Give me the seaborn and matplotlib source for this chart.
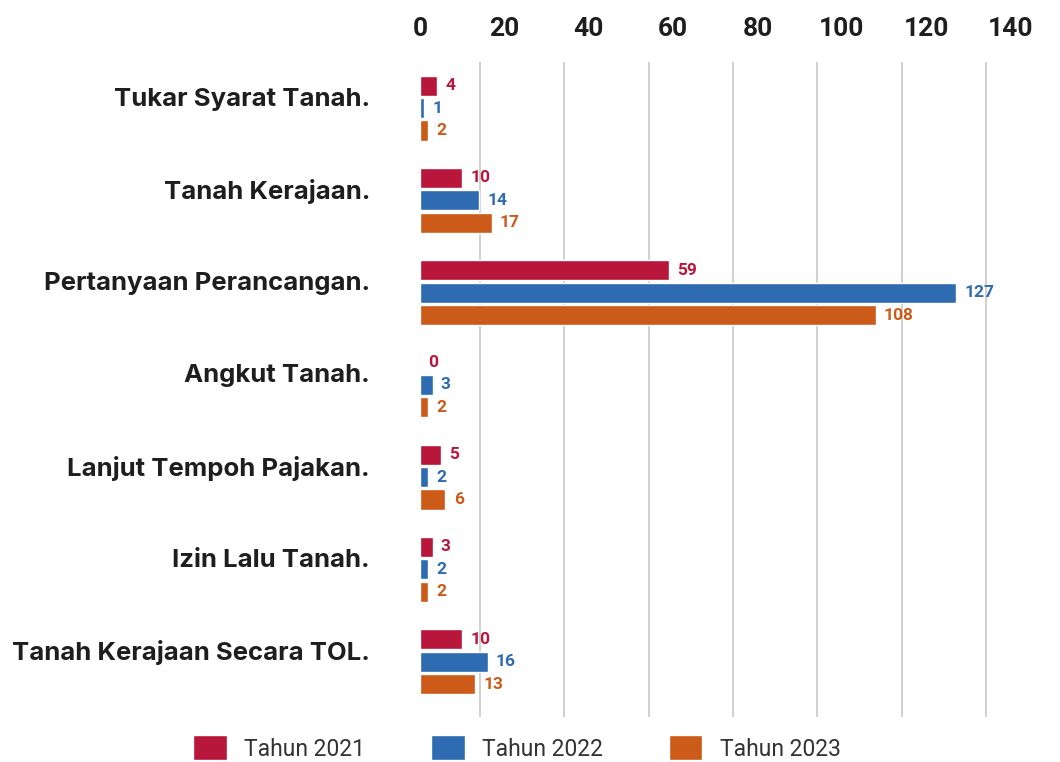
import numpy as np
import pandas as pd
import matplotlib
matplotlib.use("Agg")
import matplotlib.pyplot as plt
import matplotlib.transforms as mtransforms
from matplotlib.ticker import FixedLocator
import seaborn as sns

categories = ["Tukar Syarat Tanah.", "Tanah Kerajaan.", "Pertanyaan Perancangan.",
              "Angkut Tanah.", "Lanjut Tempoh Pajakan.", "Izin Lalu Tanah.",
              "Tanah Kerajaan Secara TOL."]
years = ["Tahun 2021", "Tahun 2022", "Tahun 2023"]
v2021 = [4, 10, 59, 0, 5, 3, 10]
v2022 = [1, 14, 127, 3, 2, 2, 16]
v2023 = [2, 17, 108, 2, 6, 2, 13]
xticks = [0, 20, 40, 60, 80, 100, 120, 140]
colors = ["#B8163A", "#2E6BB0", "#CC5A18"]

df = pd.DataFrame({
    "kategori": categories * 3,
    "tahun": [years[0]] * 7 + [years[1]] * 7 + [years[2]] * 7,
    "nilai": v2021 + v2022 + v2023,
})

sns.set_theme(style="white")
plt.rcParams["font.family"] = ["Roboto", "DejaVu Sans"]

fig = plt.figure(figsize=(10.6, 7.62), dpi=100)
ax = fig.add_axes([420 / 1060, 1 - 717 / 762, 616 / 1060, 655 / 762])

sns.barplot(data=df, y="kategori", x="nilai", hue="tahun", order=categories,
            hue_order=years, palette=colors, orient="h", width=0.73, gap=0.1,
            saturation=1, ax=ax, legend=True)

ax.set_xlim(0, 146)
ax.set_ylim(6.6, -0.5)
for s in ax.spines.values():
    s.set_visible(False)

ax.xaxis.tick_top()
ax.set_xticks(xticks)
ax.set_xticklabels([str(t) for t in xticks], fontsize=19, fontweight="bold", color="#1e1e1e")
ax.tick_params(axis="x", which="major", length=0, pad=15)
ax.xaxis.set_minor_locator(FixedLocator(np.array(xticks[1:]) - 5.8))
ax.tick_params(axis="x", which="minor", length=0)
ax.grid(False)
ax.grid(True, axis="x", which="minor", color="#c8c8c8", linewidth=1.2)
ax.set_axisbelow(True)
ax.set_xlabel("")
ax.set_ylabel("")

ax.set_yticks(range(len(categories)))
ax.set_yticklabels([])
ax.tick_params(axis="y", length=0)
trans = mtransforms.blended_transform_factory(ax.transAxes, ax.transData) + \
    mtransforms.ScaledTranslation(-50 / 100, 9 / 100, fig.dpi_scale_trans)
for i, c in enumerate(categories):
    ax.text(0, i, c, transform=trans, ha="right", va="center", fontsize=18.5,
            fontweight="bold", color="#1e1e1e", family=["Inter", "DejaVu Sans"])

for cont, col in zip(ax.containers, colors):
    ax.bar_label(cont, padding=6, color=col, fontsize=12.5, fontweight="bold")

handles, labels = ax.get_legend_handles_labels()
ax.get_legend().remove()
fig.legend(handles, labels, loc="center", bbox_to_anchor=(517 / 1060, 1 - 748 / 762),
           ncol=3, frameon=False, fontsize=16.5, handlelength=1.45, handleheight=1.3,
           handletextpad=0.75, columnspacing=2.9, labelcolor="#333333")

fig.savefig("out.png", dpi=100)
